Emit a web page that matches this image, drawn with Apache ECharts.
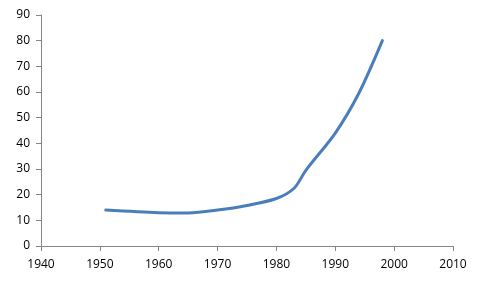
<!DOCTYPE html>
<html><head><meta charset="utf-8">
<script src="https://cdn.jsdelivr.net/npm/echarts@6/dist/echarts.min.js"></script>
<style>html,body{margin:0;padding:0;background:#fff}#c{width:482px;height:290px}</style>
</head><body><div id="c"></div>
<script>
const years  = [1951, 1960, 1965, 1970, 1975, 1980, 1983, 1985, 1990, 1994, 1998];
const values = [14,   13,   12.9, 14,   15.8, 18.5, 22.5, 29.5, 44,   59.5, 80];
const xTicks = [1940, 1950, 1960, 1970, 1980, 1990, 2000, 2010];
const yTicks = [0, 10, 20, 30, 40, 50, 60, 70, 80, 90];

const chart = echarts.init(document.getElementById('c'), null, {renderer: 'canvas'});
const labelStyle = {color: '#000', fontFamily: 'Open Sans, Liberation Sans, sans-serif', fontSize: 12};
const axisCommon = {
  axisLine: {show: true, lineStyle: {color: '#868686', width: 1}},
  axisTick: {show: true, length: 5, lineStyle: {color: '#868686'}},
  splitLine: {show: false}
};
chart.setOption({
  animation: false,
  grid: {left: 41, right: 29, top: 15, bottom: 44, containLabel: false},
  xAxis: Object.assign({}, axisCommon, {
    type: 'value', min: xTicks[0], max: xTicks[xTicks.length - 1], interval: 10,
    axisLabel: Object.assign({}, labelStyle, {margin: 13, formatter: v => String(v)})
  }),
  yAxis: Object.assign({}, axisCommon, {
    type: 'value', min: yTicks[0], max: yTicks[yTicks.length - 1], interval: 10,
    axisLabel: Object.assign({}, labelStyle, {margin: 11, formatter: v => String(v)})
  }),
  series: [{
    type: 'line',
    data: years.map((y, i) => [y, values[i]]),
    smooth: 0.3,
    showSymbol: false,
    lineStyle: {color: '#4a7ebb', width: 3, cap: 'round'}
  }]
});
</script></body></html>
